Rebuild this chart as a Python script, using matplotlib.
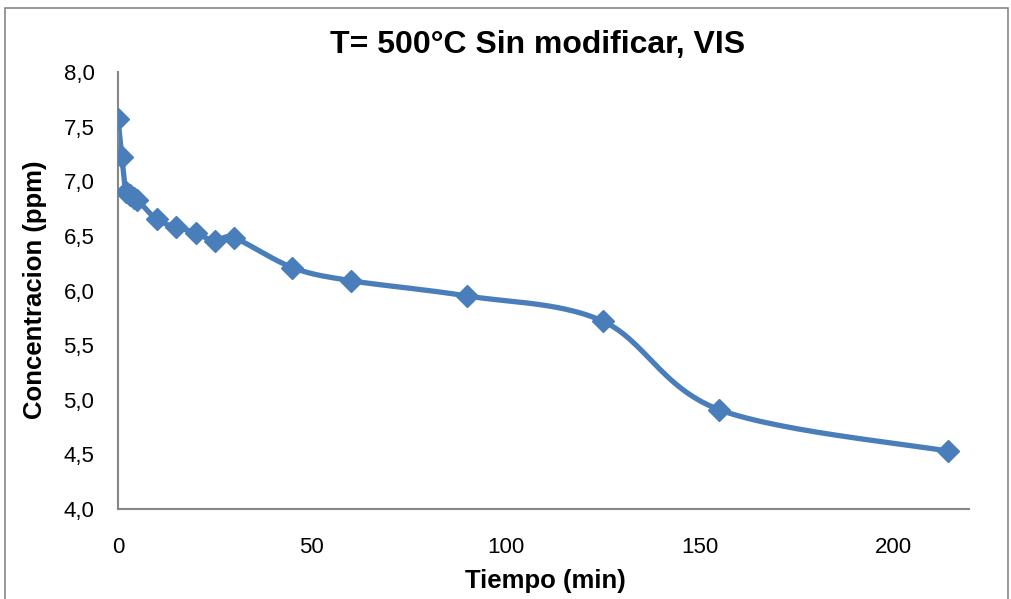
import numpy as np
import matplotlib
matplotlib.use('agg')
import matplotlib.pyplot as plt
from matplotlib.ticker import FuncFormatter, MultipleLocator
from matplotlib.patches import Rectangle

plt.rcParams['font.family'] = ['Liberation Sans', 'DejaVu Sans']

tiempo = [0, 1, 2, 3, 4, 5, 10, 15, 20, 25, 30, 45, 60, 90, 125, 155, 214]
concentracion = [7.57, 7.22, 6.90, 6.87, 6.85, 6.83, 6.65, 6.58, 6.53, 6.45, 6.48,
                 6.21, 6.09, 5.95, 5.72, 4.91, 4.53]

title = 'T= 500°C Sin modificar, VIS'
xlabel = 'Tiempo (min)'
ylabel = 'Concentracion (ppm)'
color = '#4A7EBB'


def excel_smooth(x, y, n=30):
    # bezier curve with control points like excel "smoothed line"
    x = np.asarray(x, float)
    y = np.asarray(y, float)
    xs, ys = [x[0]], [y[0]]
    t = np.linspace(0, 1, n)[1:]
    for i in range(len(x) - 1):
        x0, y0 = x[i], y[i]
        x3, y3 = x[i + 1], y[i + 1]
        xp, yp = (x[i - 1], y[i - 1]) if i > 0 else (x0, y0)
        xn, yn = (x[i + 2], y[i + 2]) if i + 2 < len(x) else (x3, y3)
        x1, y1 = x0 + (x3 - xp) / 6, y0 + (y3 - yp) / 6
        x2, y2 = x3 - (xn - x0) / 6, y3 - (yn - y0) / 6
        b = [(1 - t) ** 3, 3 * (1 - t) ** 2 * t, 3 * (1 - t) * t ** 2, t ** 3]
        xs.extend(b[0] * x0 + b[1] * x1 + b[2] * x2 + b[3] * x3)
        ys.extend(b[0] * y0 + b[1] * y1 + b[2] * y2 + b[3] * y3)
    return np.array(xs), np.array(ys)


fig = plt.figure(figsize=(10.11, 5.99), dpi=100)
ax = fig.add_axes([118 / 1011, 90 / 599, (969 - 118) / 1011, (509 - 72) / 599])

sx, sy = excel_smooth(tiempo, concentracion)
ax.plot(sx, sy, color=color, linewidth=3.8, solid_capstyle='round', zorder=2)
ax.plot(tiempo, concentracion, linestyle='none', marker='D', markersize=11,
        color=color, zorder=3)

ax.set_xlim(0, 219.5)
ax.set_ylim(4.0, 8.0)
ax.xaxis.set_major_locator(MultipleLocator(50))
ax.yaxis.set_major_locator(MultipleLocator(0.5))
ax.yaxis.set_major_formatter(FuncFormatter(lambda v, p: f'{v:.1f}'.replace('.', ',')))
ax.tick_params(length=0, labelsize=16)
ax.tick_params(axis='y', pad=17)
ax.tick_params(axis='x', pad=20)
for s in ['top', 'right']:
    ax.spines[s].set_visible(False)
for s in ['left', 'bottom']:
    ax.spines[s].set_color('#868686')
    ax.spines[s].set_linewidth(1.5)

fig.text(545 / 1011, 1 - 581 / 599, xlabel, fontsize=18.5, fontweight='bold',
         ha='center', va='center')
fig.text(35 / 1011, 1 - 290 / 599, ylabel, fontsize=18.5, fontweight='bold',
         ha='center', va='center', rotation=90)
fig.text(538 / 1011, 1 - 45 / 599, title, fontsize=23, fontweight='bold',
         ha='center', va='center')

fig.patches.append(Rectangle((5 / 1011, -0.05), (1008 - 5) / 1011, 1.05 - 8 / 599,
                             transform=fig.transFigure, fill=False,
                             edgecolor='#868686', linewidth=1.2))

fig.savefig('out.png', dpi=100)
